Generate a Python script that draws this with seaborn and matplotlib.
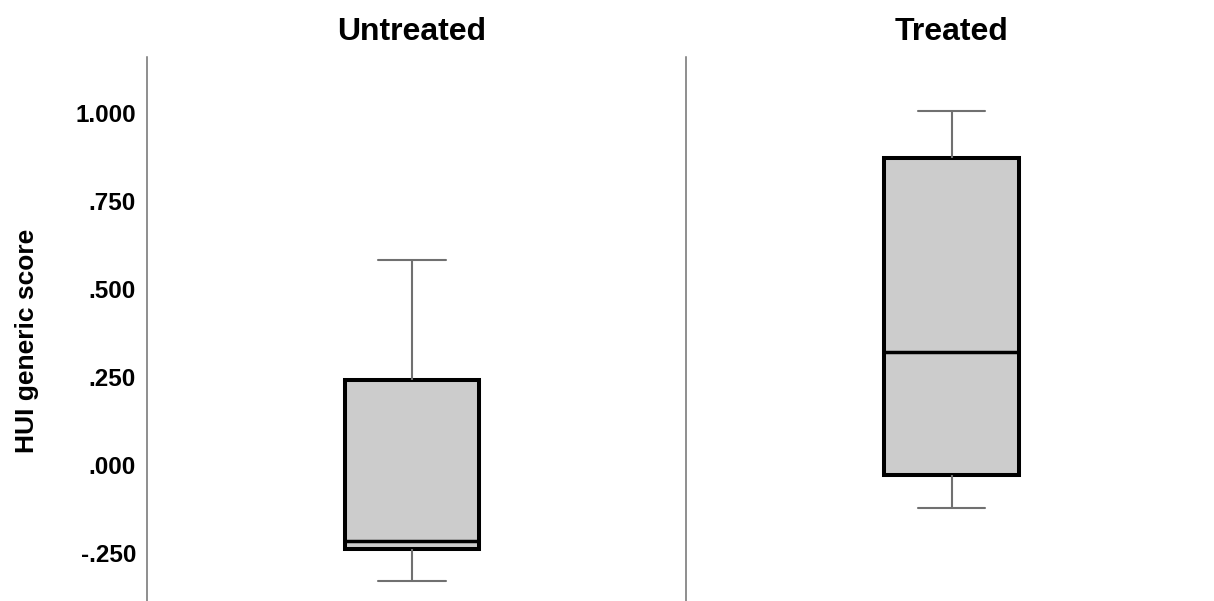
import numpy as np
import matplotlib
matplotlib.use("Agg")
import matplotlib.pyplot as plt
import pandas as pd
import seaborn as sns

# five-number summaries (min, q1, median, q3, max)
groups = ["Untreated", "Treated"]
untreated_hui = [-0.329, -0.239, -0.216, 0.241, 0.582]
treated_hui = [-0.122, -0.028, 0.321, 0.872, 1.005]
tick_values = [-0.25, 0.0, 0.25, 0.5, 0.75, 1.0]
tick_labels = ["-.250", ".000", ".250", ".500", ".750", "1.000"]

df = pd.DataFrame({
    "group": ["Untreated"] * len(untreated_hui) + ["Treated"] * len(treated_hui),
    "score": untreated_hui + treated_hui,
})

sns.set_style("white")
plt.rcParams["font.family"] = ["Liberation Sans", "DejaVu Sans"]
plt.rcParams["text.color"] = "black"
plt.rcParams["axes.labelcolor"] = "black"
plt.rcParams["ytick.color"] = "black"

fig = plt.figure(figsize=(12.14, 6.01), dpi=100)
W, H = 1214, 601
axes = [
    fig.add_axes([147 / W, 0, 530 / W, 544 / H]),
    fig.add_axes([686 / W, 0, 531 / W, 544 / H]),
]

for ax, name in zip(axes, groups):
    sns.boxplot(
        data=df[df["group"] == name], y="score", ax=ax,
        width=0.253, whis=np.inf, color="#cccccc", saturation=1,
        linecolor="black", linewidth=2.8,
        boxprops=dict(edgecolor="black", linewidth=2.9),
        medianprops=dict(color="black", linewidth=2.5),
        whiskerprops=dict(color="#707070", linewidth=1.5),
        capprops=dict(color="#707070", linewidth=1.5),
    )
    ax.set_xlim(-0.5, 0.5)
    ax.set_ylim(-0.386, 1.159)
    ax.set_xticks([])
    ax.set_xlabel("")
    ax.set_ylabel("")
    ax.set_title(name, fontsize=23, fontweight="bold", pad=12)
    for side in ["top", "right", "bottom"]:
        ax.spines[side].set_visible(False)
    ax.spines["left"].set_color("#707070")
    ax.spines["left"].set_linewidth(1.1)
    ax.tick_params(axis="y", length=0)

axes[0].set_yticks(tick_values)
axes[0].set_yticklabels(tick_labels, fontsize=17.5, fontweight="bold")
axes[0].tick_params(axis="y", pad=8)
axes[0].set_ylabel("HUI generic score", fontsize=19, fontweight="bold")
axes[0].yaxis.set_label_coords(-0.204, 0.478)
axes[1].set_yticks(tick_values)
axes[1].set_yticklabels([])

fig.savefig("out.png", dpi=100)
